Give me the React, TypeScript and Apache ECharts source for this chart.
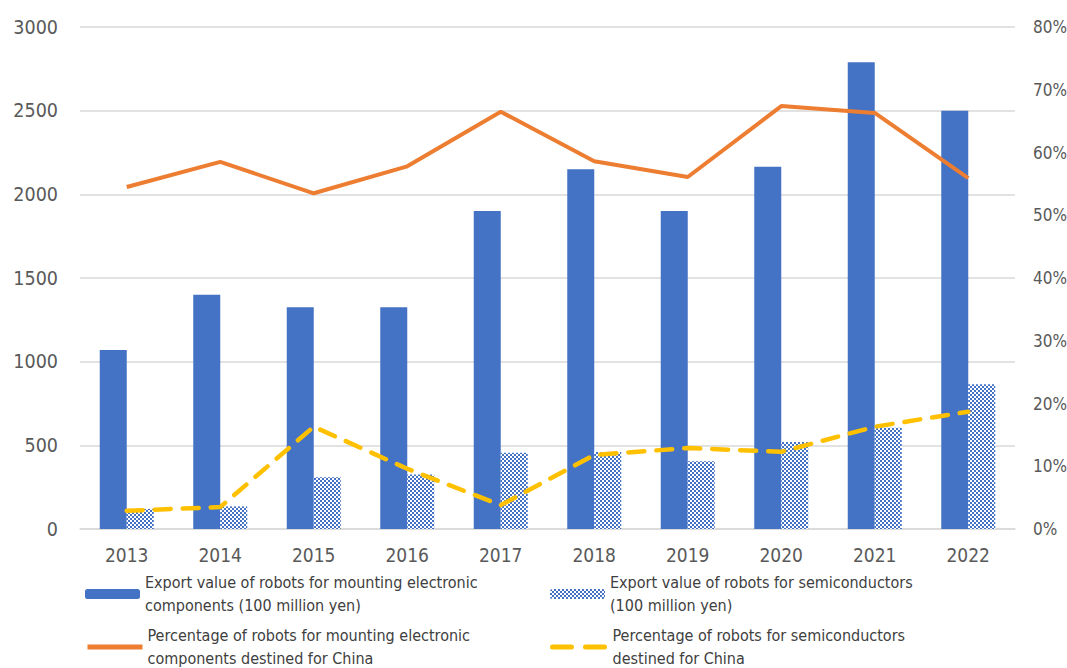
import React, { useEffect, useRef } from "react";
import * as echarts from "echarts";

const years = ["2013", "2014", "2015", "2016", "2017", "2018", "2019", "2020", "2021", "2022"];
const electronicExport = [1070, 1400, 1325, 1325, 1900, 2150, 1900, 2165, 2790, 2500];
const semiExport = [120, 135, 310, 325, 455, 460, 405, 520, 605, 865];
const electronicChinaPct = [54.5, 58.5, 53.5, 57.8, 66.5, 58.6, 56.1, 67.4, 66.3, 55.9];
const semiChinaPct = [2.9, 3.5, 16.3, 9.6, 3.8, 11.8, 12.9, 12.3, 16.3, 18.7];

const NAME_A = "Export value of robots for mounting electronic\ncomponents (100 million yen)";
const NAME_B = "Export value of robots for semiconductors\n(100 million yen)";
const NAME_C = "Percentage of robots for mounting electronic\ncomponents destined for China";
const NAME_D = "Percentage of robots for semiconductors\ndestined for China";

const FONT = "'DejaVu Sans Condensed', 'Noto Sans', sans-serif";

function makePattern(): string {
  const c = document.createElement("canvas");
  c.width = 4;
  c.height = 4;
  const ctx = c.getContext("2d")!;
  ctx.fillStyle = "#ffffff";
  ctx.fillRect(0, 0, 4, 4);
  ctx.fillStyle = "#4472C4";
  ctx.fillRect(0, 0, 2, 2);
  ctx.fillRect(2, 2, 2, 2);
  return c.toDataURL();
}

export default function App() {
  const ref = useRef<HTMLDivElement>(null);
  useEffect(() => {
    if (!ref.current) return;
    const chart = echarts.init(ref.current, undefined, { renderer: "svg" });
    const pattern = { image: makePattern(), repeat: "repeat" } as any;
    const legendText = { fontSize: 16, lineHeight: 23, color: "#404040", fontFamily: FONT };
    const mkLegend = (name: string, left: number, top: number, line: any) => ({
      orient: "vertical",
      left,
      top,
      padding: 0,
      itemWidth: 55,
      itemHeight: 10,
      textStyle: legendText,
      data: [line ? { name, itemStyle: { opacity: 0 }, lineStyle: line } : { name }],
    });
    chart.setOption({
      animation: false,
      textStyle: { fontFamily: FONT },
      grid: { left: 80, right: 52, top: 27, bottom: 139, outerBoundsMode: "none", containLabel: false },
      legend: [
        mkLegend(NAME_A, 85, 571, null),
        mkLegend(NAME_C, 85, 624, { width: 5, color: "#ED7D31" }),
        mkLegend(NAME_B, 550, 571, null),
        mkLegend(NAME_D, 550, 624, { width: 5, color: "#FFC000", type: [19, 14] }),
      ],
      xAxis: {
        type: "category",
        data: years,
        axisLine: { lineStyle: { color: "#D9D9D9", width: 1.5 } },
        axisTick: { show: false },
        axisLabel: { color: "#595959", fontSize: 19, margin: 16 },
      },
      yAxis: [
        {
          type: "value",
          min: 0,
          max: 3000,
          interval: 500,
          axisLine: { show: false },
          axisTick: { show: false },
          axisLabel: { color: "#595959", fontSize: 19.5, margin: 22, formatter: (v: number) => String(v) },
          splitLine: { lineStyle: { color: "#D9D9D9", width: 1.5 } },
        },
        {
          type: "value",
          min: 0,
          max: 80,
          interval: 10,
          axisLine: { show: false },
          axisTick: { show: false },
          axisLabel: { color: "#595959", fontSize: 17, margin: 18, formatter: "{value}%" },
          splitLine: { show: false },
        },
      ],
      series: [
        {
          name: NAME_A,
          type: "bar",
          data: electronicExport,
          barWidth: 27,
          barGap: "0%",
          itemStyle: { color: "#4472C4" },
        },
        {
          name: NAME_B,
          type: "bar",
          data: semiExport,
          barWidth: 27,
          barGap: "0%",
          itemStyle: { color: pattern },
        },
        {
          name: NAME_C,
          type: "line",
          yAxisIndex: 1,
          data: electronicChinaPct,
          symbol: "none",
          lineStyle: { color: "#ED7D31", width: 4 },
          itemStyle: { color: "#ED7D31" },
        },
        {
          name: NAME_D,
          type: "line",
          yAxisIndex: 1,
          data: semiChinaPct,
          symbol: "none",
          lineStyle: { color: "#FFC000", width: 4.5, type: [16, 12], cap: "round" },
          itemStyle: { color: "#FFC000" },
        },
      ],
    });
    return () => chart.dispose();
  }, []);
  return <div ref={ref} style={{ width: 1067, height: 668, position: "absolute", left: 0, top: 0 }} />;
}
